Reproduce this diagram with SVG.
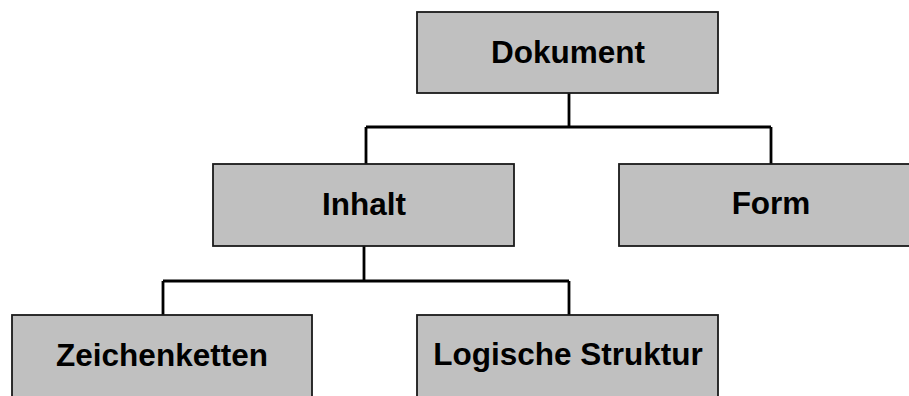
<svg xmlns="http://www.w3.org/2000/svg" width="909" height="396" viewBox="0 0 909 396">
<style>
.box{fill:#c0c0c0;stroke:#1a1a1a;stroke-width:1.8}
.lbl{font-family:"Liberation Sans",Arial,sans-serif;font-weight:bold;font-size:31.5px;fill:#000;text-anchor:middle}
.con{fill:none;stroke:#000;stroke-width:2.8}
</style>
<rect width="909" height="396" fill="#fff"/>
<g id="connectors">
<path class="con" d="M569 93 V127 M366 127 H771 M366 127 V164 M771 127 V164"/>
<path class="con" d="M364 246 V281 M163 281 H569 M163 281 V315 M569 281 V315"/>
</g>
<g id="dokument"><rect class="box" x="417" y="12" width="301" height="81"/><text class="lbl" x="568" y="63">Dokument</text></g>
<g id="inhalt"><rect class="box" x="213" y="164" width="301" height="82"/><text class="lbl" x="364" y="215">Inhalt</text></g>
<g id="form"><rect class="box" x="619" y="164" width="303" height="82"/><text class="lbl" x="771" y="214">Form</text></g>
<g id="zeichenketten"><rect class="box" x="12" y="315" width="300" height="82"/><text class="lbl" x="162" y="366">Zeichenketten</text></g>
<g id="logische-struktur"><rect class="box" x="417" y="315" width="301" height="82"/><text class="lbl" x="568" y="365">Logische Struktur</text></g>
</svg>
